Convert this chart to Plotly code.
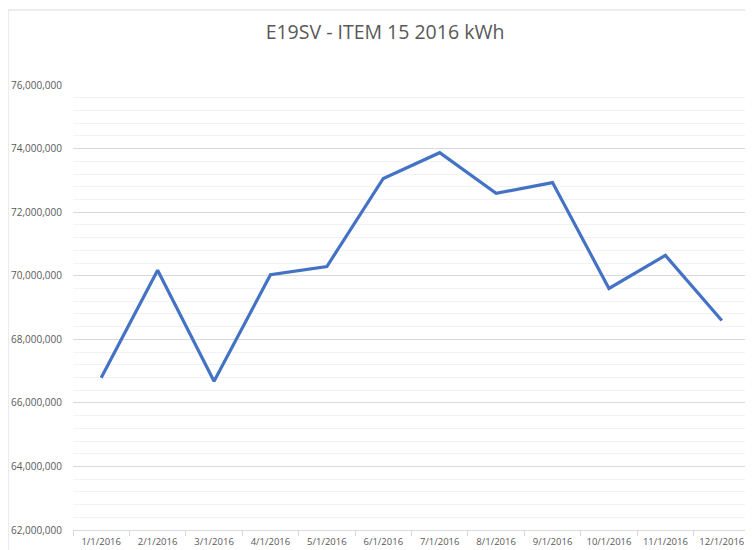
import plotly.graph_objects as go

months = ["1/1/2016", "2/1/2016", "3/1/2016", "4/1/2016", "5/1/2016", "6/1/2016",
          "7/1/2016", "8/1/2016", "9/1/2016", "10/1/2016", "11/1/2016", "12/1/2016"]
kwh = [66790000, 70170000, 66680000, 70030000, 70290000, 73060000,
       73870000, 72590000, 72930000, 69600000, 70640000, 68590000]

title_text = "E19SV - ITEM 15 2016 kWh"
y_ticks = [62000000, 64000000, 66000000, 68000000, 70000000, 72000000, 74000000, 76000000]

# page body has an 8px default margin, so the figure is sized to fit the window
W, H = 745, 542
ml, mr, mt, mb = 65, 3, 77, 20
pw, ph = W - ml - mr, H - mt - mb

fig = go.Figure()
fig.add_trace(go.Scatter(
    x=months, y=kwh, mode="lines",
    line=dict(color="#4472C4", width=3.2),
    hoverinfo="x+y",
))

fig.update_layout(
    width=W, height=H,
    margin=dict(l=ml, r=mr, t=mt, b=mb, autoexpand=False),
    paper_bgcolor="white", plot_bgcolor="white",
    showlegend=False,
    font=dict(family="Open Sans, Liberation Sans, sans-serif", color="#595959", size=10),
    title=dict(
        text=title_text,
        x=377 / W, xanchor="center",
        y=1 - 24 / H, yanchor="middle",
        font=dict(size=19.5, color="#595959", family="Open Sans, sans-serif"),
    ),
    xaxis=dict(
        type="category",
        range=[-0.5, len(months) - 0.5],
        showgrid=False,
        showline=True, linecolor="#D9D9D9", linewidth=1,
        ticks="outside", tickson="boundaries", ticklen=5, tickcolor="#D9D9D9",
        tickangle=0, automargin=False, ticklabelstandoff=3,
        tickfont=dict(size=9.5, color="#595959"),
        fixedrange=True,
    ),
    yaxis=dict(
        range=[62000000, 76000000],
        tickvals=y_ticks,
        tickformat=",d",
        showgrid=True, gridcolor="#D9D9D9", gridwidth=1,
        zeroline=False, showline=False,
        ticks="", ticklabelstandoff=10, automargin=False,
        tickfont=dict(size=10, color="#595959"),
        minor=dict(dtick=400000, tick0=62000000, showgrid=True,
                   gridcolor="#F2F2F2", gridwidth=1),
        fixedrange=True,
    ),
    shapes=[dict(
        type="rect", xref="paper", yref="paper",
        x0=-ml / pw, x1=(W + 20 - ml) / pw,
        y0=-(mb + 20) / ph, y1=1 + (mt - 2) / ph,
        line=dict(color="#D9D9D9", width=1), layer="below",
    )],
)

fig.write_html("out.html")
